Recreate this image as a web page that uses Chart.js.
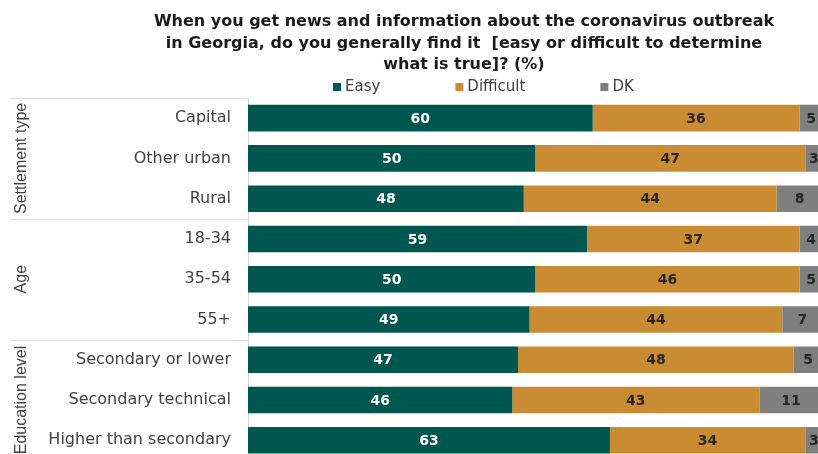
<!DOCTYPE html>
<html>
<head>
<meta charset="utf-8">
<script src="https://cdn.jsdelivr.net/npm/chart.js@4"></script>
<style>
  html, body { margin: 0; padding: 0; background: #fff; overflow: hidden; }
  #chart { display: block; }
</style>
</head>
<body>
<canvas id="chart" width="830" height="487"></canvas>
<script>
// Survey question shown as the heading
const titleLines = [
  'When you get news and information about the coronavirus outbreak',
  'in Georgia, do you generally find it  [easy or difficult to determine',
  'what is true]? (%)'
];

// Respondent groups (rows)
const categories = [
  'Capital', 'Other urban', 'Rural',
  '18-34', '35-54', '55+',
  'Secondary or lower', 'Secondary technical', 'Higher than secondary'
];

// Group headings and how many rows each covers
const groupNames = ['Settlement type', 'Age', 'Education level'];
const groupSizes = [3, 3, 3];

// Answer shares, %
const seriesNames = ['Easy', 'Difficult', 'DK'];
const easy      = [60, 50, 48, 59, 50, 49, 47, 46, 63];
const difficult = [36, 47, 44, 37, 46, 44, 48, 43, 34];
const dk        = [5, 3, 8, 4, 5, 7, 5, 11, 3];

const colors = ['#00574f', '#c98c33', '#7f7f7f'];
const valueColors = ['#ffffff', '#262626', '#262626'];

const labelFont = '"DejaVu Sans", sans-serif';

// Heading, legend, row-group captions and separators
const decorPlugin = {
  id: 'decor',
  afterDraw(chart) {
    const ctx = chart.ctx;
    const area = chart.chartArea;
    const y = chart.scales.y;
    ctx.save();

    // heading
    ctx.fillStyle = '#1a1a1a';
    ctx.font = 'bold 16px ' + labelFont;
    ctx.textAlign = 'center';
    ctx.textBaseline = 'middle';
    titleLines.forEach((t, i) => ctx.fillText(t, 464, 22 + i * 21.5));

    // legend
    ctx.font = '15px ' + labelFont;
    ctx.textAlign = 'left';
    let lx = 333;
    const ly = 87;
    chart.data.datasets.forEach((ds) => {
      ctx.fillStyle = ds.backgroundColor;
      ctx.fillRect(lx, ly - 4, 8, 8);
      ctx.fillStyle = '#404040';
      ctx.fillText(ds.label, lx + 12, ly);
      lx += 12 + ctx.measureText(ds.label).width + 75;
    });

    // group separators and captions
    const band = y.getPixelForValue(1) - y.getPixelForValue(0);
    ctx.strokeStyle = '#dcdcdc';
    ctx.lineWidth = 1;
    let start = 0;
    groupNames.forEach((name, g) => {
      const top = y.getPixelForValue(start) - band / 2;
      const bottom = y.getPixelForValue(start + groupSizes[g] - 1) + band / 2;
      ctx.beginPath();
      ctx.moveTo(10, Math.round(top) + 0.5);
      ctx.lineTo(area.left, Math.round(top) + 0.5);
      ctx.stroke();

      ctx.save();
      ctx.translate(22, (top + bottom) / 2);
      ctx.rotate(-Math.PI / 2);
      ctx.fillStyle = '#404040';
      ctx.font = '16px "Liberation Sans", Arial, sans-serif';
      ctx.textAlign = 'center';
      ctx.textBaseline = 'middle';
      ctx.fillText(name, 0, 0);
      ctx.restore();
      start += groupSizes[g];
    });
    ctx.restore();
  }
};

// Value printed in the middle of each visible bar segment
const valueLabels = {
  id: 'valueLabels',
  afterDatasetsDraw(chart) {
    const ctx = chart.ctx;
    const area = chart.chartArea;
    ctx.save();
    ctx.font = 'bold 14px ' + labelFont;
    ctx.textAlign = 'center';
    ctx.textBaseline = 'middle';
    chart.data.datasets.forEach((ds, di) => {
      const meta = chart.getDatasetMeta(di);
      ctx.fillStyle = valueColors[di];
      meta.data.forEach((bar, i) => {
        const p = bar.getProps(['x', 'y', 'base'], true);
        const a = Math.max(Math.min(p.x, p.base), area.left);
        const b = Math.min(Math.max(p.x, p.base), area.right);
        ctx.fillText(String(ds.data[i]), (a + b) / 2, p.y + 1);
      });
    });
    ctx.restore();
  }
};

new Chart(document.getElementById('chart'), {
  type: 'bar',
  data: {
    labels: categories,
    datasets: [easy, difficult, dk].map((vals, k) => ({
      label: seriesNames[k],
      data: vals,
      backgroundColor: colors[k],
      borderWidth: 0,
      barPercentage: 0.66,
      categoryPercentage: 1
    }))
  },
  options: {
    indexAxis: 'y',
    responsive: false,
    animation: false,
    layout: { padding: { top: 98, right: 7.5, bottom: 7, left: 0 } },
    plugins: {
      legend: { display: false },
      title: { display: false },
      tooltip: { enabled: false }
    },
    scales: {
      x: { stacked: true, min: 0, max: 100, display: false },
      y: {
        stacked: true,
        grid: { display: false, drawTicks: false },
        border: { display: true, color: '#d9d9d9', width: 1 },
        ticks: {
          color: '#404040',
          font: { family: labelFont, size: 16 },
          padding: 17
        },
        afterFit(scale) { scale.width = 248; }
      }
    }
  },
  plugins: [valueLabels, decorPlugin]
});
</script>
</body>
</html>
